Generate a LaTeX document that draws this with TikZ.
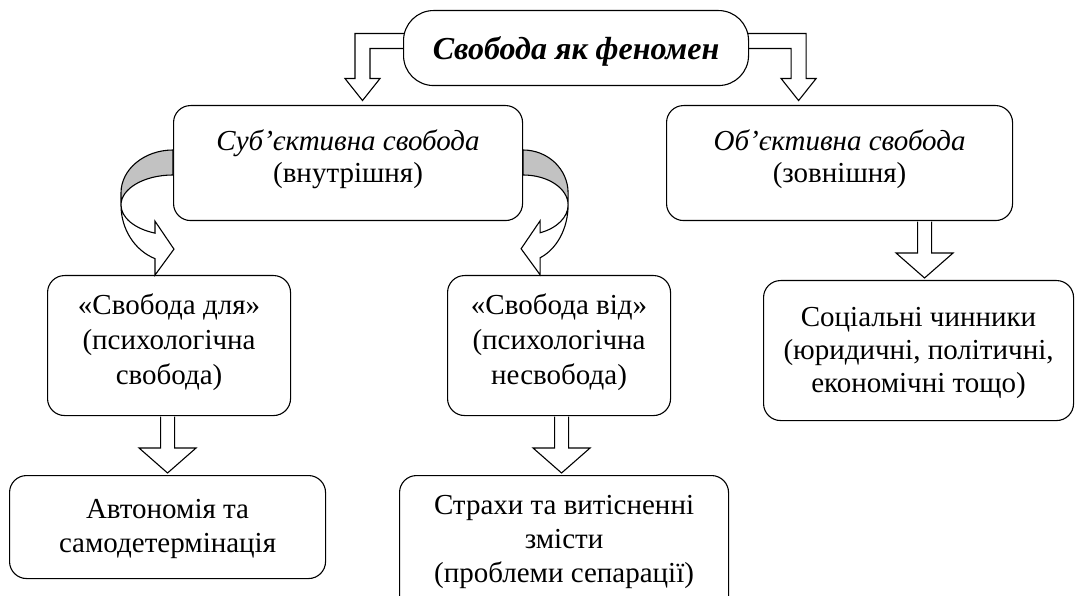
\documentclass[tikz,border=0pt]{standalone}
\usepackage{fontspec}
\setmainfont{Liberation Serif}
\usetikzlibrary{calc,backgrounds}
\newcommand{\lns}[1]{\begin{tabular}[t]{@{}c@{}}#1\end{tabular}}
\newcommand{\blockdown}[3]{%
  \draw[blk] let \p1=(#1.south), \p2=(#2.north) in
   (\x2+#3-7pt,\y1-0.6pt) -- (\x2+#3-7pt,\y2+27pt) -- (\x2+#3-28.5pt,\y2+27pt)
   -- (\x2+#3,\y2+2pt) -- (\x2+#3+28.5pt,\y2+27pt) -- (\x2+#3+7pt,\y2+27pt)
   -- (\x2+#3+7pt,\y1-0.6pt);}
\tikzset{
  box/.style={draw, line width=1.1pt, rounded corners=17pt, fill=white,
    inner sep=0pt, anchor=north west, font=\fontsize{29}{34}\selectfont},
  blk/.style={draw, line width=1.1pt, fill=white, line join=miter},
  band/.style={draw, line width=1.1pt, fill=black!24},
}
\begin{document}
\begin{tikzpicture}[x=1pt,y=-1pt]
\useasboundingbox (0,0) rectangle (1080,596);
\clip (0,0) rectangle (1080,596);
% boxes
\node[box, rounded corners=30pt, minimum width=345pt, text height=49pt, text depth=26pt,
  font=\fontsize{32}{36}\selectfont\bfseries\itshape] (top) at (403,10) {Свобода як феномен};
\node[box, minimum width=349pt, text height=45pt, text depth=70pt,
  font=\fontsize{29}{32}\selectfont] (sub) at (173,105)
  {\lns{\textit{Суб’єктивна свобода}\\(внутрішня)}};
\node[box, minimum width=346pt, text height=45pt, text depth=70pt,
  font=\fontsize{29}{32}\selectfont] (obj) at (666,105)
  {\lns{\textit{Об’єктивна свобода}\\(зовнішня)}};
\node[box, minimum width=243pt, text height=39pt, text depth=101pt,
  font=\fontsize{29}{35}\selectfont] (dlya) at (47,275)
  {\lns{«Свобода для»\\(психологічна\\свобода)}};
\node[box, minimum width=223pt, text height=39pt, text depth=101pt,
  font=\fontsize{29}{35}\selectfont] (vid) at (447,275)
  {\lns{«Свобода від»\\(психологічна\\несвобода)}};
\node[box, minimum width=310pt, text height=46pt, text depth=94pt,
  font=\fontsize{29}{33}\selectfont] (soc) at (763,280)
  {\lns{Соціальні чинники\\(юридичні, політичні,\\економічні тощо)}};
\node[box, minimum width=316pt, text height=43pt, text depth=60pt] (auto) at (9,475)
  {\lns{Автономія та\\самодетермінація}};
\node[box, minimum width=329pt, text height=39pt, text depth=134pt] (strah) at (399,475)
  {\lns{Страхи та витісненні\\змісти\\(проблеми сепарації)}};
% bent arrows from the title
\begin{scope}[on background layer]
\draw[blk] ($(top.west)+(10,-14.5)$) -- ($(top.west)+(-48,-14.5)$) -- ($(top.west)+(-48,30.5)$)
  -- ($(top.west)+(-58,30.5)$) -- ($(top.west)+(-40.5,52.5)$) -- ($(top.west)+(-23,30.5)$)
  -- ($(top.west)+(-33,30.5)$) -- ($(top.west)+(-33,0.5)$) -- ($(top.west)+(10,0.5)$) -- cycle;
\draw[blk] ($(top.east)+(-10,-14.5)$) -- ($(top.east)+(57,-14.5)$) -- ($(top.east)+(57,30.5)$)
  -- ($(top.east)+(67,30.5)$) -- ($(top.east)+(49.5,52.5)$) -- ($(top.east)+(32,30.5)$)
  -- ($(top.east)+(42,30.5)$) -- ($(top.east)+(42,0.5)$) -- ($(top.east)+(-10,0.5)$) -- cycle;
\end{scope}
% curved arrows
\draw[band] ($(sub.north west)+(0,45)$) arc[start angle=270,end angle=180,x radius=52,y radius=43]
  -- ++(0,12) arc[start angle=180,end angle=270,x radius=52,y radius=30] -- cycle;
\draw[blk] ($(sub.north west)+(-52,100)$) arc[start angle=180,end angle=110.3,x radius=52,y radius=30]
  -- ++(0,-12) -- ++(19,28) -- ++(-19,26) -- ++(0,-16.5)
  arc[start angle=110.3,end angle=180,x radius=52,y radius=57] -- cycle;
\draw[band] ($(sub.north east)+(0,45)$) arc[start angle=270,end angle=360,x radius=45,y radius=43]
  -- ++(0,12) arc[start angle=0,end angle=-90,x radius=45,y radius=30] -- cycle;
\draw[blk] ($(sub.north east)+(45,100)$) arc[start angle=0,end angle=67.8,x radius=45,y radius=30]
  -- ++(0,-12) -- ++(-19,28) -- ++(19,26) -- ++(0,-17)
  arc[start angle=67.8,end angle=0,x radius=45,y radius=57] -- cycle;
% straight block arrows
\blockdown{obj}{soc}{6pt}
\blockdown{dlya}{auto}{0pt}
\blockdown{vid}{strah}{-2.5pt}
\end{tikzpicture}
\end{document}
